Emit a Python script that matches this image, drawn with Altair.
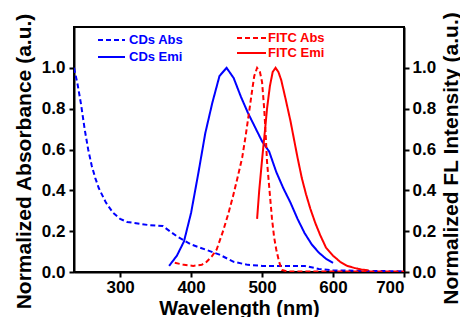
import altair as alt
import pandas as pd

# CDs absorption (blue dashed)
cds_abs_x = [235, 240, 245, 250, 255, 260, 265, 270, 280, 290, 300, 310, 320, 340, 360, 370, 380, 390, 400, 420, 440, 460, 480, 500, 540, 560, 580, 600, 700]
cds_abs_y = [1.0, 0.92, 0.82, 0.70, 0.60, 0.52, 0.46, 0.41, 0.34, 0.29, 0.26, 0.245, 0.24, 0.23, 0.225, 0.20, 0.175, 0.155, 0.135, 0.11, 0.085, 0.05, 0.035, 0.03, 0.03, 0.03, 0.015, 0.008, 0.003]

# CDs emission (blue solid)
cds_emi_x = [369, 380, 390, 400, 410, 420, 430, 440, 450, 460, 470, 480, 490, 500, 510, 520, 530, 540, 550, 560, 570, 580, 590, 600]
cds_emi_y = [0.03, 0.08, 0.15, 0.29, 0.48, 0.68, 0.83, 0.96, 1.0, 0.95, 0.86, 0.78, 0.71, 0.64, 0.59, 0.49, 0.41, 0.34, 0.26, 0.19, 0.135, 0.095, 0.065, 0.045]

# FITC absorption (red dashed)
fitc_abs_x = [377, 390, 403, 415, 422, 430, 436, 445, 452, 459, 466, 472, 477, 482, 486, 489, 493, 497, 500, 503, 505, 507, 510, 514, 517, 520, 524, 528, 535, 600, 700]
fitc_abs_y = [0.045, 0.035, 0.03, 0.035, 0.05, 0.08, 0.11, 0.2, 0.28, 0.37, 0.47, 0.56, 0.67, 0.79, 0.89, 0.96, 1.0, 0.98, 0.93, 0.8, 0.68, 0.54, 0.42, 0.26, 0.17, 0.11, 0.05, 0.01, 0.003, 0.002, 0.002]

# FITC emission (red solid)
fitc_emi_x = [493, 496, 500, 504, 507, 511, 515, 519, 523, 527, 533, 540, 545, 550, 556, 562, 568, 575, 582, 590, 600, 610, 620, 630, 640, 650]
fitc_emi_y = [0.26, 0.4, 0.55, 0.69, 0.8, 0.91, 0.98, 1.0, 0.98, 0.94, 0.85, 0.74, 0.65, 0.56, 0.46, 0.38, 0.31, 0.24, 0.18, 0.12, 0.08, 0.05, 0.03, 0.02, 0.012, 0.008]

series_names = ["CDs Abs", "CDs Emi", "FITC Abs", "FITC Emi"]
series_colors = ["#0000FF", "#0000FF", "#FF0000", "#FF0000"]
series_dash = [[5, 3], [1, 0], [5, 3], [1, 0]]

x_ticks = [300, 400, 500, 600, 700]
y_ticks = [0.0, 0.2, 0.4, 0.6, 0.8, 1.0]

rows = []
for name, xs, ys in zip(series_names,
                        [cds_abs_x, cds_emi_x, fitc_abs_x, fitc_emi_x],
                        [cds_abs_y, cds_emi_y, fitc_abs_y, fitc_emi_y]):
    for i, (xv, yv) in enumerate(zip(xs, ys)):
        rows.append({"series": name, "wl": xv, "val": yv, "order": i})
df = pd.DataFrame(rows)

FONT = "Liberation Sans"

xscale = alt.Scale(domain=[235, 700], nice=False, zero=False)
yscale = alt.Scale(domain=[0, 1.2], nice=False)

xaxis = alt.Axis(title="Wavelength (nm)", values=x_ticks, format="d",
                 labelBaseline="alphabetic", labelPadding=15,
                 titleX=165, titleY=42, titleBaseline="alphabetic")

color = alt.Color("series:N", scale=alt.Scale(domain=series_names, range=series_colors), legend=None)
dash = alt.StrokeDash("series:N", scale=alt.Scale(domain=series_names, range=series_dash), legend=None)

lines = alt.Chart(df).mark_line(strokeWidth=2, clip=True).encode(
    x=alt.X("wl:Q", scale=xscale, axis=xaxis),
    y=alt.Y("val:Q", scale=yscale,
            axis=alt.Axis(title="Normalized Absorbance (a.u.)", values=y_ticks, format=".1f",
                          orient="left", labelPadding=4, titleFontSize=21,
                          titleX=-50, titleY=134, titleBaseline="middle", titleAngle=270)),
    color=color,
    strokeDash=dash,
    detail="series:N",
    order="order:Q",
)

right = alt.Chart(df).mark_line(opacity=0).encode(
    x=alt.X("wl:Q", scale=xscale, axis=xaxis),
    y=alt.Y("val:Q", scale=yscale,
            axis=alt.Axis(title="Normalized FL Intensity (a.u.)", values=y_ticks, format=".1f",
                          orient="right", labelPadding=3, titleFontSize=21,
                          titleX=47, titleY=131, titleBaseline="middle", titleAngle=270)),
    detail="series:N",
)

# legend (manual, two blocks)
leg = pd.DataFrame({
    "series": series_names,
    "x1": [24, 24, 163, 163],
    "x2": [51, 51, 192, 192],
    "tx": [55, 55, 194, 194],
    "y": [13, 30, 11, 26],
})
leg_lines = alt.Chart(leg).mark_rule(strokeWidth=2).encode(
    x=alt.X("x1:Q", scale=None), x2="x2:Q", y=alt.Y("y:Q", scale=None),
    color=color, strokeDash=dash,
)
leg_text = alt.Chart(leg).mark_text(align="left", baseline="middle", font=FONT,
                                     fontWeight="bold", fontSize=13).encode(
    x=alt.X("tx:Q", scale=None), y=alt.Y("y:Q", scale=None),
    text="series:N", color=color,
)

chart = alt.layer(lines, right, leg_lines, leg_text).resolve_axis(y="independent").properties(
    width=330, height=245,
    autosize=alt.AutoSizeParams(type="none"),
    padding={"left": 66, "top": 19, "right": 56, "bottom": 45},
).configure_axis(
    labelFont=FONT, labelFontWeight="bold", labelFontSize=17, labelColor="black",
    titleFont=FONT, titleFontWeight="bold", titleFontSize=20, titleColor="black",
    tickColor="black", tickWidth=2, tickSize=5, domainColor="black", domainWidth=2,
    grid=False,
).configure_view(stroke="black", strokeWidth=2)

chart.save("out.html", embed_options={"renderer": "svg", "actions": False})
